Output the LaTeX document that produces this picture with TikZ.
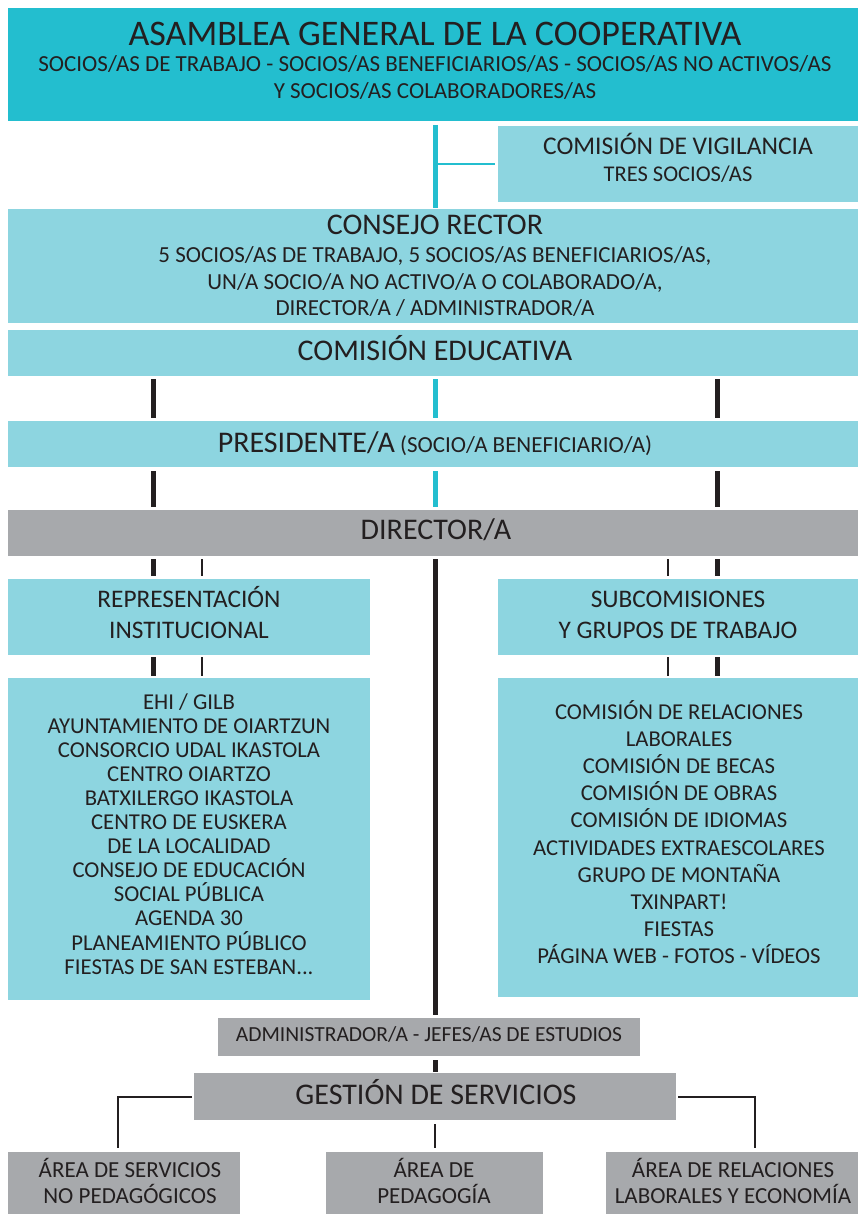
\documentclass[tikz,border=0pt]{standalone}
\usepackage{fontspec}
\setmainfont{Carlito}
\usetikzlibrary{calc}
\definecolor{cteal}{RGB}{35,190,207}
\definecolor{clight}{RGB}{141,213,224}
\definecolor{cgray}{RGB}{167,169,172}
\definecolor{cink}{RGB}{35,31,32}
\newcommand\myfs[1]{\fontsize{#1}{#1}\selectfont}
\begin{document}
\begin{tikzpicture}[x=1pt,y=-1pt,
  panel/.style n args={3}{draw=none, fill=#1, minimum width=#2pt, minimum height=#3pt, inner sep=0pt, outer sep=0pt, anchor=north west},
  txt/.style={anchor=base, inner sep=0pt, text=cink},
  ln/.style={draw=cink, line width=#1pt},
  cy/.style={draw=cteal, line width=#1pt}]
\useasboundingbox (0,0) rectangle (858,1214);
% panels
\node[panel={cteal}{850}{113}] (asm) at (8,8) {};
\node[panel={clight}{360}{76}] (vig) at (498,126) {};
\node[panel={clight}{850}{114}] (consejo) at (8,209) {};
\node[panel={clight}{850}{46}] (educ) at (8,330) {};
\node[panel={clight}{850}{46}] (pres) at (8,421) {};
\node[panel={cgray}{850}{46}] (dir) at (8,510) {};
\node[panel={clight}{362}{76}] (rep) at (8,579) {};
\node[panel={clight}{360}{76}] (sub) at (498,579) {};
\node[panel={clight}{362}{322}] (replist) at (8,678) {};
\node[panel={clight}{360}{319}] (sublist) at (498,678) {};
\node[panel={cgray}{422}{38}] (admin) at (218,1018) {};
\node[panel={cgray}{482}{47}] (gest) at (194,1073) {};
\node[panel={cgray}{232}{62}] (b1) at (8,1152) {};
\node[panel={cgray}{217}{62}] (b2) at (326,1152) {};
\node[panel={cgray}{252}{62}] (b3) at (606,1152) {};
% texts
\node[txt, font=\myfs{36}] (asmT) at (435,46) {ASAMBLEA GENERAL DE LA COOPERATIVA};
\node[txt, font=\myfs{23}] (asmS1) at (435,72) {SOCIOS/AS DE TRABAJO - SOCIOS/AS BENEFICIARIOS/AS - SOCIOS/AS NO ACTIVOS/AS};
\node[txt, font=\myfs{23}] (asmS2) at (435,99) {Y SOCIOS/AS COLABORADORES/AS};
\node[txt, font=\myfs{25.5}] (vigT) at (678,155) {COMISIÓN DE VIGILANCIA};
\node[txt, font=\myfs{22.5}] (vigS) at (678,182) {TRES SOCIOS/AS};
\node[txt, font=\myfs{30}] (conT) at (435,235) {CONSEJO RECTOR};
\node[txt, font=\myfs{23}] (conS1) at (435,263) {5 SOCIOS/AS DE TRABAJO, 5 SOCIOS/AS BENEFICIARIOS/AS,};
\node[txt, font=\myfs{23}] (conS2) at (435,289.5) {UN/A SOCIO/A NO ACTIVO/A O COLABORADO/A,};
\node[txt, font=\myfs{23}] (conS3) at (435,316) {DIRECTOR/A / ADMINISTRADOR/A};
\node[txt, font=\myfs{30}] (educT) at (435,360) {COMISIÓN EDUCATIVA};
\node[txt, font=\myfs{30}] (presT) at (435,452) {PRESIDENTE/A\myfs{23} (SOCIO/A BENEFICIARIO/A)};
\node[txt, font=\myfs{30}] (dirT) at (436,539) {DIRECTOR/A};
\node[txt, font=\myfs{25.3}] (repT1) at (189,607) {REPRESENTACIÓN};
\node[txt, font=\myfs{25.3}] (repT2) at (189,638) {INSTITUCIONAL};
\node[txt, font=\myfs{25.3}] (subT1) at (678,607) {SUBCOMISIONES};
\node[txt, font=\myfs{25.3}] (subT2) at (678,638) {Y GRUPOS DE TRABAJO};
\foreach \t [count=\i] in {EHI / GILB, AYUNTAMIENTO DE OIARTZUN, CONSORCIO UDAL IKASTOLA, CENTRO OIARTZO, BATXILERGO IKASTOLA, CENTRO DE EUSKERA, DE LA LOCALIDAD, CONSEJO DE EDUCACIÓN, SOCIAL PÚBLICA, AGENDA 30, PLANEAMIENTO PÚBLICO}
  \node[txt, font=\myfs{22.7}] (L\i) at (189,{709+24.1*(\i-1)}) {\t};
\node[txt, font=\myfs{22.7}] (L12) at (189,{709+24.1*11}) {FIESTAS DE SAN ESTEBAN.{}.{}.};
\foreach \t [count=\i] in {COMISIÓN DE RELACIONES, LABORALES, COMISIÓN DE BECAS, COMISIÓN DE OBRAS, COMISIÓN DE IDIOMAS, ACTIVIDADES EXTRAESCOLARES, GRUPO DE MONTAÑA, TXINPART!, FIESTAS, PÁGINA WEB - FOTOS - VÍDEOS}
  \node[txt, font=\myfs{22.7}] (R\i) at (679,{719+27.2*(\i-1)}) {\t};
\node[txt, font=\myfs{21.5}] (adminT) at (429,1041) {ADMINISTRADOR/A - JEFES/AS DE ESTUDIOS};
\node[txt, font=\myfs{30}] (gestT) at (436,1104) {GESTIÓN DE SERVICIOS};
\node[txt, font=\myfs{23}] (b1T1) at (130,1177) {ÁREA DE SERVICIOS};
\node[txt, font=\myfs{23}] (b1T2) at (130,1203) {NO PEDAGÓGICOS};
\node[txt, font=\myfs{23}] (b2T1) at (434,1177) {ÁREA DE};
\node[txt, font=\myfs{23}] (b2T2) at (434,1203) {PEDAGOGÍA};
\node[txt, font=\myfs{23}] (b3T1) at (733,1177) {ÁREA DE RELACIONES};
\node[txt, font=\myfs{23}] (b3T2) at (733,1203) {LABORALES Y ECONOMÍA};
% connector columns
\coordinate (xC) at (435,0);
\coordinate (xL) at (153,0);
\coordinate (xLt) at (202,0);
\coordinate (xRt) at (668,0);
\coordinate (xR) at (717,0);
\coordinate (xB1) at (118,0);
\coordinate (xB3) at (755,0);
% connectors
\draw[cy=5, shorten <=4pt, shorten >=1pt] (asm.south -| xC) -- (consejo.north -| xC);
\draw[cy=2.5, shorten >=3pt] (xC |- vig.west) -- (vig.west);
\foreach \c in {xL, xR} {
  \draw[ln=5, shorten <=3pt, shorten >=3pt] (educ.south -| \c) -- (pres.north -| \c);
  \draw[ln=5, shorten <=4pt, shorten >=3pt] (pres.south -| \c) -- (dir.north -| \c);
}
\draw[cy=5, shorten <=3pt, shorten >=3pt] (educ.south -| xC) -- (pres.north -| xC);
\draw[cy=5, shorten <=4pt, shorten >=3pt] (pres.south -| xC) -- (dir.north -| xC);
\draw[ln=5, shorten <=3pt, shorten >=3pt] (dir.south -| xL) -- (rep.north -| xL);
\draw[ln=2, shorten <=3pt, shorten >=3pt] (dir.south -| xLt) -- (rep.north -| xLt);
\draw[ln=2, shorten <=3pt, shorten >=3pt] (dir.south -| xRt) -- (sub.north -| xRt);
\draw[ln=5, shorten <=3pt, shorten >=3pt] (dir.south -| xR) -- (sub.north -| xR);
\draw[ln=5, shorten <=2pt, shorten >=2pt] (rep.south -| xL) -- (replist.north -| xL);
\draw[ln=2, shorten <=2pt, shorten >=2pt] (rep.south -| xLt) -- (replist.north -| xLt);
\draw[ln=2, shorten <=2pt, shorten >=2pt] (sub.south -| xRt) -- (sublist.north -| xRt);
\draw[ln=5, shorten <=2pt, shorten >=2pt] (sub.south -| xR) -- (sublist.north -| xR);
\draw[ln=5, shorten <=3pt, shorten >=3pt] (dir.south -| xC) -- (admin.north -| xC);
\draw[ln=5, shorten <=4pt, shorten >=1pt] (admin.south -| xC) -- (gest.north -| xC);
\draw[ln=2, shorten <=4pt, shorten >=4pt] (gest.south -| xC) -- (b2.north -| xC);
\draw[ln=2] ([xshift=-2pt]gest.west) -| ([yshift=4pt]b1.north -| xB1);
\draw[ln=2] ([xshift=2pt]gest.east) -| ([yshift=4pt]b3.north -| xB3);
\end{tikzpicture}
\end{document}
